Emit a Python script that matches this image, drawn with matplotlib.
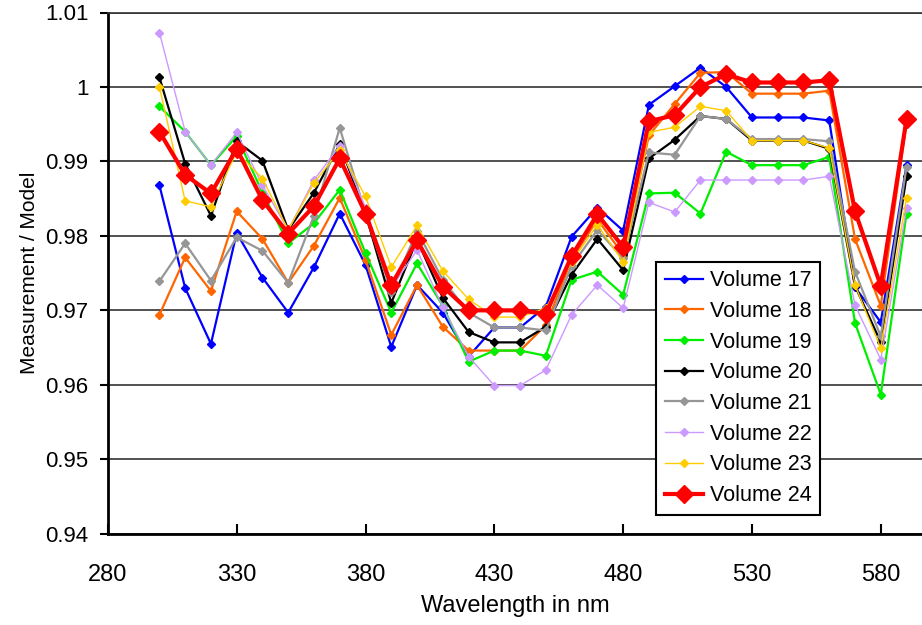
import matplotlib
matplotlib.use("Agg")
import matplotlib.pyplot as plt

plt.rcParams['font.family'] = ['Liberation Sans', 'DejaVu Sans']

wavelength = list(range(300, 600, 10))

vol17 = [0.9868, 0.9730, 0.9655, 0.9804, 0.9744, 0.9697, 0.9758, 0.9830, 0.9761, 0.9651,
         0.9734, 0.9697, 0.9638, 0.9677, 0.9677, 0.9705, 0.9799, 0.9838, 0.9807, 0.9976,
         1.0001, 1.0026, 1.0000, 0.9959, 0.9959, 0.9959, 0.9955, 0.9731, 0.9684, 0.9895]
vol18 = [0.9694, 0.9771, 0.9726, 0.9833, 0.9796, 0.9737, 0.9787, 0.9851, 0.9768, 0.9667,
         0.9734, 0.9678, 0.9646, 0.9646, 0.9646, 0.9680, 0.9768, 0.9822, 0.9775, 0.9935,
         0.9977, 1.0019, 1.0020, 0.9991, 0.9991, 0.9991, 0.9995, 0.9796, 0.9706, 0.9953]
vol19 = [0.9974, 0.9940, 0.9895, 0.9934, 0.9858, 0.9790, 0.9817, 0.9862, 0.9777, 0.9697,
         0.9763, 0.9706, 0.9631, 0.9646, 0.9646, 0.9639, 0.9741, 0.9752, 0.9721, 0.9857,
         0.9858, 0.9830, 0.9913, 0.9895, 0.9895, 0.9895, 0.9906, 0.9683, 0.9587, 0.9830]
vol20 = [1.0013, 0.9897, 0.9827, 0.9927, 0.9901, 0.9808, 0.9858, 0.9923, 0.9830, 0.9710,
         0.9795, 0.9717, 0.9671, 0.9657, 0.9657, 0.9678, 0.9748, 0.9796, 0.9754, 0.9904,
         0.9929, 0.9961, 0.9957, 0.9928, 0.9928, 0.9928, 0.9917, 0.9733, 0.9657, 0.9880]
vol21 = [0.9739, 0.9790, 0.9740, 0.9798, 0.9780, 0.9737, 0.9827, 0.9945, 0.9830, 0.9725,
         0.9807, 0.9741, 0.9697, 0.9677, 0.9677, 0.9673, 0.9760, 0.9808, 0.9770, 0.9912,
         0.9909, 0.9961, 0.9957, 0.9930, 0.9930, 0.9930, 0.9927, 0.9752, 0.9665, 0.9893]
vol22 = [1.0073, 0.9940, 0.9895, 0.9939, 0.9868, 0.9808, 0.9875, 0.9921, 0.9838, 0.9730,
         0.9781, 0.9704, 0.9638, 0.9599, 0.9599, 0.9620, 0.9694, 0.9734, 0.9703, 0.9845,
         0.9832, 0.9875, 0.9875, 0.9875, 0.9875, 0.9875, 0.9880, 0.9707, 0.9634, 0.9837]
vol23 = [1.0000, 0.9847, 0.9839, 0.9913, 0.9877, 0.9808, 0.9871, 0.9915, 0.9853, 0.9758,
         0.9814, 0.9753, 0.9715, 0.9691, 0.9691, 0.9703, 0.9765, 0.9815, 0.9765, 0.9939,
         0.9946, 0.9974, 0.9968, 0.9928, 0.9928, 0.9928, 0.9918, 0.9734, 0.9649, 0.9851]
vol24 = [0.9940, 0.9882, 0.9857, 0.9917, 0.9848, 0.9803, 0.9840, 0.9904, 0.9830, 0.9734,
         0.9794, 0.9732, 0.9700, 0.9700, 0.9700, 0.9695, 0.9773, 0.9829, 0.9785, 0.9954,
         0.9962, 1.0000, 1.0017, 1.0006, 1.0006, 1.0006, 1.0009, 0.9833, 0.9733, 0.9957]

series = [vol17, vol18, vol19, vol20, vol21, vol22, vol23, vol24]
labels = ['Volume 17', 'Volume 18', 'Volume 19', 'Volume 20',
          'Volume 21', 'Volume 22', 'Volume 23', 'Volume 24']
colors = ['#0000FF', '#FF6600', '#00EE00', '#000000',
          '#969696', '#CC99FF', '#FFCC00', '#FF0000']
widths = [1.6, 1.6, 1.6, 1.6, 1.6, 1.0, 1.0, 3.0]
msizes = [4, 4, 4, 4, 4, 4, 4, 9]

fig = plt.figure(figsize=(9.22, 6.25), dpi=100)
ax = fig.add_axes([0.117, 0.146, 0.883, 0.834])

for y, lab, c, lw, ms in zip(series, labels, colors, widths, msizes):
    ax.plot(wavelength, y, color=c, lw=lw, marker='D', ms=ms, mec=c, label=lab)

ax.set_xlim(280, 596)
ax.set_ylim(0.94, 1.01)
ax.set_xticks(range(280, 600, 50))
ax.set_yticks([0.94, 0.95, 0.96, 0.97, 0.98, 0.99, 1.0, 1.01])
ax.set_yticklabels(['0.94', '0.95', '0.96', '0.97', '0.98', '0.99', '1', '1.01'])
ax.yaxis.grid(True, color='#333333', lw=1.2)
ax.set_axisbelow(True)

ax.spines['right'].set_visible(False)
ax.spines['top'].set_color('#333333')
ax.spines['top'].set_linewidth(1.2)
ax.spines['left'].set_linewidth(2)
ax.spines['bottom'].set_linewidth(2)
ax.tick_params(axis='y', direction='out', length=6, width=1.5, labelsize=16, pad=8)
ax.tick_params(axis='x', direction='in', length=7, width=1.5, labelsize=17, pad=22)

ax.set_xlabel('Wavelength in nm', fontsize=17, labelpad=6)
ax.set_ylabel('Measurement / Model', fontsize=15, labelpad=4)

leg = ax.legend(loc='upper right', bbox_to_anchor=(0.875, 0.522), borderaxespad=0,
                fontsize=15.5, handlelength=1.8, handletextpad=0.3, labelspacing=0.45,
                fancybox=False, framealpha=1, edgecolor='black', borderpad=0.4)
leg.get_frame().set_linewidth(1.5)

fig.savefig('out.png', dpi=100)
